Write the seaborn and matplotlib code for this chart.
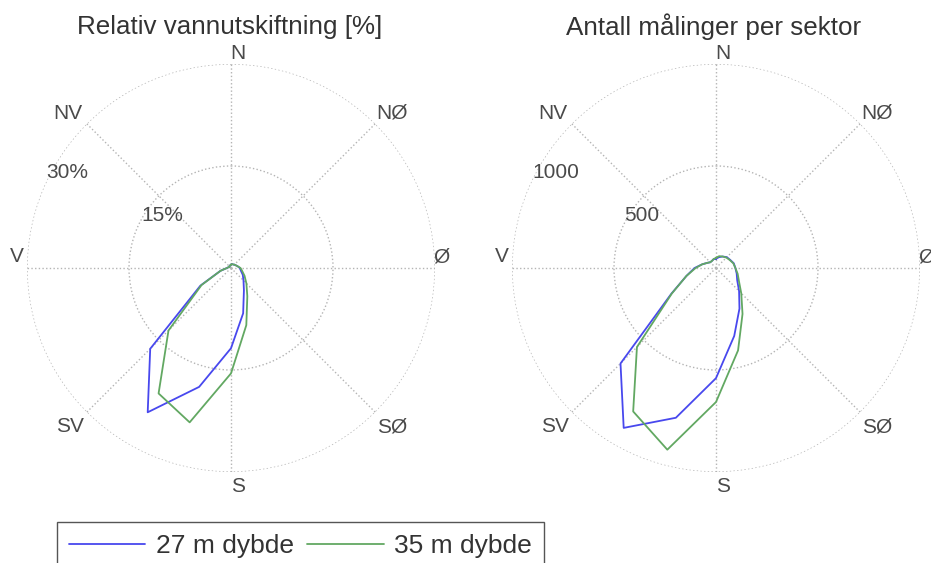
import numpy as np
import matplotlib
matplotlib.use("Agg")
import matplotlib.pyplot as plt
import seaborn as sns

# sector bearings (degrees, clockwise from north), 15 degree sectors
sectors = list(range(0, 360, 15))

# relative water exchange per sector [%]
exch_27 = [0.5, 0.6, 0.6, 0.7, 0.8, 1.0, 1.3, 1.5, 2.0, 2.6, 3.8, 6.9,
           11.8, 18.1, 24.5, 16.8, 5.2, 1.6, 0.6, 0.4, 0.3, 0.3, 0.4, 0.4]
exch_35 = [0.5, 0.6, 0.6, 0.7, 0.8, 1.0, 1.4, 1.7, 2.3, 3.2, 4.8, 8.7,
           15.5, 23.5, 21.3, 13.0, 5.0, 1.6, 0.6, 0.4, 0.3, 0.3, 0.4, 0.4]

# number of measurements per sector
count_27 = [45, 55, 65, 75, 80, 90, 95, 105, 120, 160, 230, 345,
            540, 760, 905, 662, 253, 150, 105, 70, 50, 40, 40, 45]
count_35 = [50, 60, 65, 72, 78, 88, 95, 110, 130, 175, 260, 418,
            657, 922, 812, 548, 250, 150, 100, 70, 50, 40, 40, 45]

compass = ["N", "NØ", "Ø", "SØ", "S", "SV", "V", "NV"]
series_names = ["27 m dybde", "35 m dybde"]
titles = ["Relativ vannutskiftning [%]", "Antall målinger per sektor"]
rticks_left = [15, 30]
rlabels_left = ["15%", "30%"]
rticks_right = [500, 1000]
rlabels_right = ["500", "1000"]

sns.set_style("white")
plt.rcParams["font.family"] = ["Liberation Sans", "DejaVu Sans"]

C_BLUE = "#4848ee"
C_GREEN = "#62a862"
GRID = "#b4b4b4"

# pixel offsets from the polar centre (x right, y down), radius = 204 px
compass_off = [(7, -215), (161, -155), (210, -11), (161, 159),
               (7, 219), (-161, 159), (-214, -11), (-163, -155)]


def closed(vals):
    v = list(vals) + [vals[0]]
    th = np.deg2rad(sectors + [sectors[0]])
    return th, v


def frac(dx, dy):
    return 0.5 + dx / 408.0, 0.5 - dy / 408.0


def draw_rose(ax, a, b, rmax, rticks, rlabels, rlab_off, title, title_dx):
    ax.set_theta_zero_location("N")
    ax.set_theta_direction(-1)
    th, v = closed(a)
    sns.lineplot(x=th, y=v, ax=ax, sort=False, estimator=None,
                 color=C_BLUE, lw=1.3, label=series_names[0], legend=False)
    th, v = closed(b)
    sns.lineplot(x=th, y=v, ax=ax, sort=False, estimator=None,
                 color=C_GREEN, lw=1.3, label=series_names[1], legend=False)
    ax.set_ylim(0, rmax)
    ax.set_thetagrids(range(0, 360, 45), labels=[])
    ax.set_rgrids(rticks, labels=[])
    ax.grid(True, color=GRID, linestyle=":", linewidth=1.0)
    ax.spines["polar"].set_visible(False)
    ax.set_xlabel("")
    ax.set_ylabel("")
    for lab, (dx, dy) in zip(compass, compass_off):
        x, y = frac(dx, dy)
        ax.text(x, y, lab, transform=ax.transAxes, ha="center", va="center",
                fontsize=15, color="#4a4a4a", clip_on=False)
    for lab, (dx, dy) in zip(rlabels, rlab_off):
        x, y = frac(dx, dy)
        ax.text(x, y, lab, transform=ax.transAxes, ha="center", va="center",
                fontsize=15, color="#4a4a4a")
    x, y = frac(title_dx, -241)
    ax.text(x, y, title, transform=ax.transAxes, ha="center", va="center",
            fontsize=18.7, color="#333333")


fig = plt.figure(figsize=(9.31, 5.63), dpi=100)
W, H = 931.0, 563.0
ax1 = fig.add_axes([27 / W, 1 - 472 / H, 408 / W, 408 / H], projection="polar")
ax2 = fig.add_axes([512 / W, 1 - 472 / H, 408 / W, 408 / H], projection="polar")

draw_rose(ax1, exch_27, exch_35, 30, rticks_left, rlabels_left,
          [(-69, -53), (-164, -96)], titles[0], -1)
draw_rose(ax2, count_27, count_35, 1000, rticks_right, rlabels_right,
          [(-74, -53), (-160, -96)], titles[1], -2)

handles, labels = ax1.get_legend_handles_labels()
leg = fig.legend(handles, labels, loc="upper left",
                 bbox_to_anchor=(57 / W, 1 - 522 / H), ncol=2,
                 fontsize=19, handlelength=2.9, handletextpad=0.4,
                 columnspacing=0.5, borderpad=0.45, borderaxespad=0,
                 fancybox=False, framealpha=1, edgecolor="#555555")
leg.get_frame().set_linewidth(1.0)
for t in leg.get_texts():
    t.set_color("#333333")

fig.savefig("out.png", dpi=100)
